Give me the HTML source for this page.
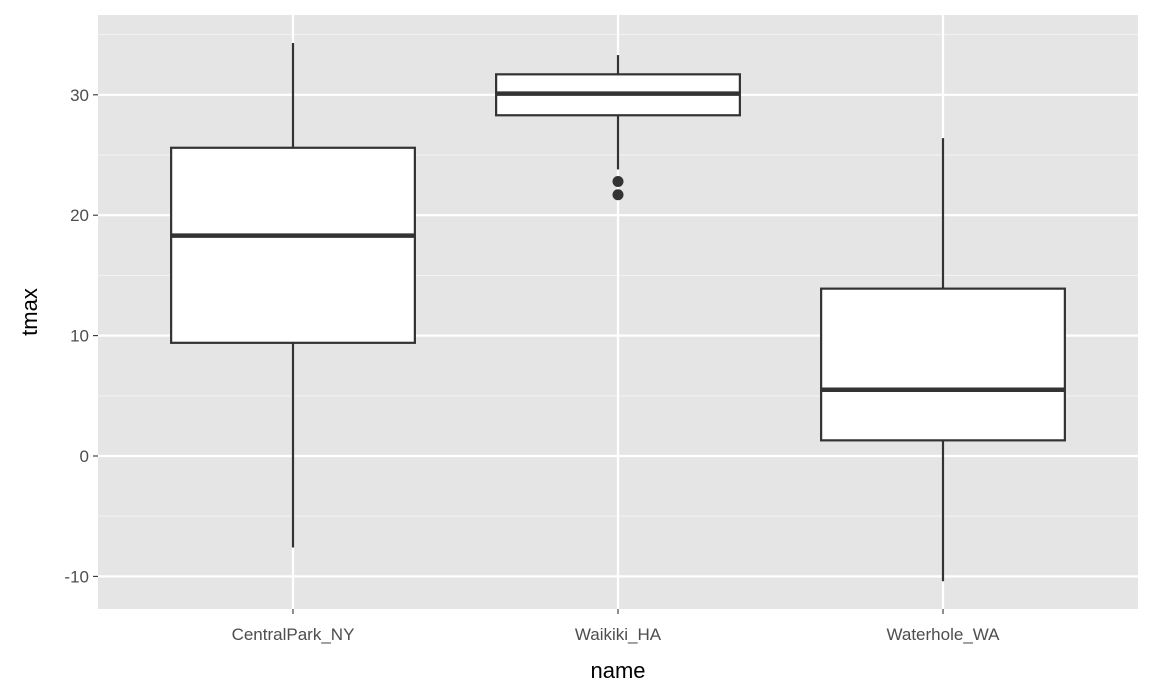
<!DOCTYPE html>
<html><head><meta charset="utf-8"><style>
body{margin:0;background:#fff;}
svg{display:block;font-family:"Liberation Sans",sans-serif;}
</style></head><body>
<svg id="chart" width="1152" height="691"></svg>
<script>
const categories = ["CentralPark_NY","Waikiki_HA","Waterhole_WA"];
const lowerWhisker = [-7.6, 23.8, -10.4];
const q1 = [9.4, 28.3, 1.3];
const medians = [18.3, 30.1, 5.5];
const q3 = [25.6, 31.7, 13.9];
const upperWhisker = [34.3, 33.3, 26.4];
const outliers = [[], [22.8, 21.7], []];
const yTicks = [-10, 0, 10, 20, 30];
const yMinor = [-5, 5, 15, 25, 35];

const NS="http://www.w3.org/2000/svg";
const svg=document.getElementById('chart');
const P={l:98,r:1138,t:15,b:609};
const y=v=>456-12.04*v;
const step=(P.r-P.l)/(categories.length-1+1.2);
const x=i=>P.l+step*(i+0.6);
function mk(tag,attrs,parent){const e=document.createElementNS(NS,tag);for(const k in attrs)e.setAttribute(k,attrs[k]);(parent||svg).appendChild(e);return e;}

const bg=mk('rect',{x:P.l,y:P.t,width:P.r-P.l,height:P.b-P.t,fill:'#e5e5e5'});


yMinor.forEach(v=>{const l=mk('line',{x1:P.l,x2:P.r,y1:y(v),y2:y(v),stroke:'#f2f2f2','stroke-width':1.1});

});
yTicks.forEach(v=>{const l=mk('line',{x1:P.l,x2:P.r,y1:y(v),y2:y(v),stroke:'#fff','stroke-width':2.2});


const t=mk('line',{x1:P.l-5,x2:P.l,y1:y(v),y2:y(v),stroke:'#333','stroke-width':1.1});


const tx=mk('text',{x:P.l-9,y:y(v)+6,'text-anchor':'end','font-size':17,fill:'#4d4d4d'});tx.textContent=v;

});
categories.forEach((c,i)=>{const l=mk('line',{x1:x(i),x2:x(i),y1:P.t,y2:P.b,stroke:'#fff','stroke-width':2.2});


const t=mk('line',{x1:x(i),x2:x(i),y1:P.b,y2:P.b+5,stroke:'#333','stroke-width':1.1});


const tx=mk('text',{x:x(i),y:P.b+31,'text-anchor':'middle','font-size':17,fill:'#4d4d4d'});tx.textContent=c;

});
const bw=step*0.375;
categories.forEach((c,i)=>{
const g=mk('g',{});


mk('line',{x1:x(i),x2:x(i),y1:y(upperWhisker[i]),y2:y(q3[i]),stroke:'#333','stroke-width':2.2},g);
mk('line',{x1:x(i),x2:x(i),y1:y(q1[i]),y2:y(lowerWhisker[i]),stroke:'#333','stroke-width':2.2},g);
mk('rect',{x:x(i)-bw,y:y(q3[i]),width:bw*2,height:y(q1[i])-y(q3[i]),fill:'#fff',stroke:'#333','stroke-width':2.2},g);
mk('line',{x1:x(i)-bw,x2:x(i)+bw,y1:y(medians[i]),y2:y(medians[i]),stroke:'#333','stroke-width':4.5},g);
outliers[i].forEach(o=>{const p=mk('circle',{cx:x(i),cy:y(o),r:5.5,fill:'#333'},g);

});
});
const xt=mk('text',{x:(P.l+P.r)/2,y:678,'text-anchor':'middle','font-size':22,fill:'#000'});xt.textContent='name';


const yt=mk('text',{x:0,y:0,'text-anchor':'middle','font-size':22,fill:'#000',transform:`translate(37,${(P.t+P.b)/2}) rotate(-90)`});yt.textContent='tmax';


</script>
</body></html>
